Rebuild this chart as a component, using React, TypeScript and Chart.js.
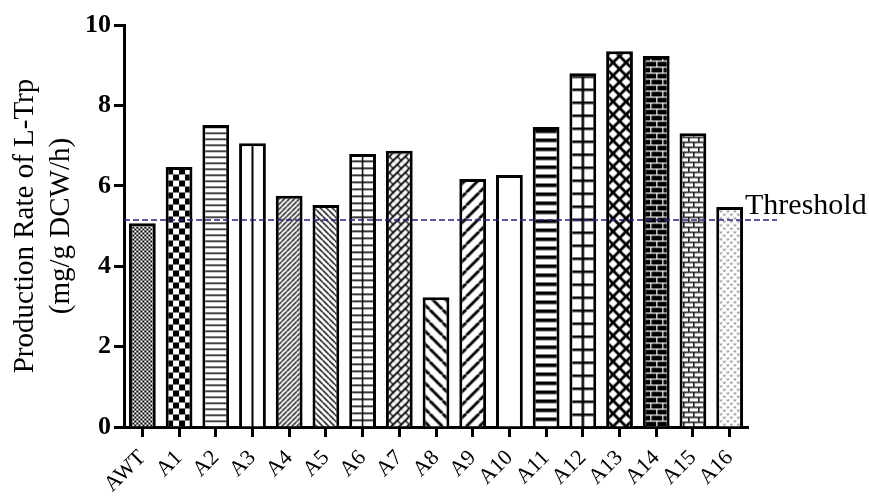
import React, { useEffect, useRef } from "react";
import { Chart, registerables } from "chart.js";

Chart.register(...registerables);

// Strains and their L-Trp production rates (mg/g DCW/h)
const strains = ["AWT", "A1", "A2", "A3", "A4", "A5", "A6", "A7", "A8", "A9", "A10", "A11", "A12", "A13", "A14", "A15", "A16"];
const productionRate = [5.07, 6.47, 7.51, 7.06, 5.75, 5.52, 6.79, 6.87, 3.23, 6.17, 6.27, 7.46, 8.8, 9.35, 9.23, 7.31, 5.47];
const thresholdValue = 5.15;
const thresholdLabel = "Threshold";
const yTickValues = [0, 2, 4, 6, 8, 10];
const yTitle = ["Production Rate of L-Trp", "(mg/g DCW/h)"];

const SERIF = '"Liberation Serif", "Times New Roman", serif';

type Painter = (g: CanvasRenderingContext2D, w: number, h: number) => void;

function seg(g: CanvasRenderingContext2D, x1: number, y1: number, x2: number, y2: number, lw: number, color = "#000") {
  g.strokeStyle = color;
  g.lineWidth = lw;
  g.beginPath();
  g.moveTo(x1, y1);
  g.lineTo(x2, y2);
  g.stroke();
}

function diag(g: CanvasRenderingContext2D, w: number, h: number, lw: number, up: boolean, color = "#000") {
  for (const o of [-w, 0, w]) {
    if (up) seg(g, o, h, o + w, 0, lw, color);
    else seg(g, o, 0, o + w, h, lw, color);
  }
}

// One fill tile per bar: [width, height, painter]
const tiles: [number, number, Painter][] = [
  // AWT: fine mesh
  [4, 4, (g) => { g.fillStyle = "#fff"; g.fillRect(0, 0, 4, 4); g.fillStyle = "#000"; g.fillRect(0, 0, 2, 2); g.fillRect(2, 2, 2, 2); }],
  // A1: checkerboard
  [12, 12, (g) => { g.fillStyle = "#fff"; g.fillRect(0, 0, 12, 12); g.fillStyle = "#000"; g.fillRect(0, 0, 6, 6); g.fillRect(6, 6, 6, 6); }],
  // A2: thin horizontal lines
  [4, 6, (g) => { g.fillStyle = "#fff"; g.fillRect(0, 0, 4, 6); g.fillStyle = "#000"; g.fillRect(0, 0, 4, 1.4); }],
  // A3: single vertical line
  [13, 4, (g) => { g.fillStyle = "#fff"; g.fillRect(0, 0, 13, 4); g.fillStyle = "#000"; g.fillRect(5.5, 0, 2, 4); }],
  // A4: dense forward diagonals
  [5, 5, (g, w, h) => { g.fillStyle = "#fff"; g.fillRect(0, 0, w, h); diag(g, w, h, 1.3, true); }],
  // A5: dense back diagonals
  [6, 6, (g, w, h) => { g.fillStyle = "#fff"; g.fillRect(0, 0, w, h); diag(g, w, h, 1.4, false); }],
  // A6: thin grid
  [13, 7, (g) => { g.fillStyle = "#fff"; g.fillRect(0, 0, 13, 7); g.fillStyle = "#000"; g.fillRect(5.75, 0, 1.5, 7); g.fillRect(0, 0, 13, 1.5); }],
  // A7: woven diagonals
  [8, 8, (g) => {
    g.fillStyle = "#fff"; g.fillRect(0, 0, 8, 8);
    g.lineCap = "round";
    seg(g, 0, 4, 4, 0, 1.8, "#000");
    seg(g, 4, 8, 8, 4, 1.8, "#000");
    seg(g, 2, 2, 6, 6, 1.2, "#000");
    seg(g, -2, 6, 0, 8, 1.2, "#000");
    seg(g, 6, -2, 10, 2, 1.2, "#000");
  }],
  // A8: wide back diagonals
  [13, 13, (g, w, h) => { g.fillStyle = "#fff"; g.fillRect(0, 0, w, h); diag(g, w, h, 2.8, false); }],
  // A9: wide forward diagonals
  [13, 13, (g, w, h) => { g.fillStyle = "#fff"; g.fillRect(0, 0, w, h); diag(g, w, h, 2.8, true); }],
  // A10: open
  [4, 4, (g) => { g.fillStyle = "#fff"; g.fillRect(0, 0, 4, 4); }],
  // A11: heavy horizontal stripes
  [4, 9, (g) => { g.fillStyle = "#fff"; g.fillRect(0, 0, 4, 9); g.fillStyle = "#000"; g.fillRect(0, 0, 4, 3.6); }],
  // A12: heavy grid
  [13, 13, (g) => { g.fillStyle = "#fff"; g.fillRect(0, 0, 13, 13); g.fillStyle = "#000"; g.fillRect(5.25, 0, 2.5, 13); g.fillRect(0, 0, 13, 2.5); }],
  // A13: diamond lattice
  [13, 13, (g, w, h) => { g.fillStyle = "#fff"; g.fillRect(0, 0, w, h); diag(g, w, h, 2.8, true); diag(g, w, h, 2.8, false); }],
  // A14: dark brick
  [12, 12, (g) => {
    g.fillStyle = "#000"; g.fillRect(0, 0, 12, 12);
    g.fillStyle = "#fff";
    g.fillRect(0, 0, 12, 1.2); g.fillRect(0, 6, 12, 1.2);
    g.fillRect(0, 0, 1.2, 6); g.fillRect(6, 6, 1.2, 6);
  }],
  // A15: light brick
  [10, 10, (g) => {
    g.fillStyle = "#fff"; g.fillRect(0, 0, 10, 10);
    g.fillStyle = "#222";
    g.fillRect(0, 0, 10, 1.6); g.fillRect(0, 5, 10, 1.6);
    g.fillRect(0, 0, 1.6, 5); g.fillRect(5, 5, 1.6, 5);
  }],
  // A16: speckled
  [7, 7, (g) => {
    g.fillStyle = "#fff"; g.fillRect(0, 0, 7, 7);
    g.lineJoin = "round";
    const v = (x: number, y: number) => {
      g.strokeStyle = "#666"; g.lineWidth = 1;
      g.beginPath(); g.moveTo(x, y); g.lineTo(x + 1.2, y + 1.8); g.lineTo(x + 2.4, y); g.stroke();
    };
    v(0.5, 0.8); v(4, 4.3);
  }],
];

function buildPatterns(ctx: CanvasRenderingContext2D) {
  return tiles.map(([w, h, paint]) => {
    const c = document.createElement("canvas");
    c.width = w;
    c.height = h;
    const g = c.getContext("2d")!;
    paint(g, w, h);
    return ctx.createPattern(c, "repeat")!;
  });
}

export default function App() {
  const canvasRef = useRef<HTMLCanvasElement | null>(null);

  useEffect(() => {
    const canvas = canvasRef.current;
    if (!canvas) return;
    const ctx = canvas.getContext("2d")!;
    const patterns = buildPatterns(ctx);

    // Anchor every fill tile on its own bar so the motif sits centred.
    const patternAnchor = {
      id: "patternAnchor",
      beforeDatasetsDraw(chart: Chart) {
        const meta = chart.getDatasetMeta(0);
        meta.data.forEach((bar: any, i: number) => {
          const w = tiles[i][0];
          const p = patterns[i] as any;
          if (p && p.setTransform) {
            p.setTransform(new DOMMatrix().translate(bar.x - w / 2, bar.base));
          }
        });
      },
    };

    const thresholdLine = {
      id: "thresholdLine",
      afterDatasetsDraw(chart: Chart) {
        const { chartArea } = chart;
        const c = chart.ctx;
        const y = chart.scales.y.getPixelForValue(thresholdValue);
        c.save();
        c.strokeStyle = "#23237f";
        c.lineWidth = 1.6;
        c.setLineDash([6, 3]);
        c.beginPath();
        c.moveTo(chartArea.left, y);
        c.lineTo(chartArea.right + 29, y);
        c.stroke();
        c.setLineDash([]);
        c.fillStyle = "#000";
        c.font = `30px ${SERIF}`;
        c.textBaseline = "alphabetic";
        c.textAlign = "left";
        c.fillText(thresholdLabel, chartArea.right - 3, y - 6);
        c.restore();
      },
    };

    const chart = new Chart(ctx, {
      type: "bar",
      data: {
        labels: strains,
        datasets: [
          {
            data: productionRate,
            backgroundColor: patterns,
            borderColor: "#000",
            borderWidth: 3,
            categoryPercentage: 1,
            barPercentage: 0.73,
          },
        ],
      },
      options: {
        responsive: false,
        animation: false,
        layout: { padding: { top: 25, right: 121, left: 0, bottom: 0 } },
        plugins: { legend: { display: false }, tooltip: { enabled: false } },
        scales: {
          x: {
            ticks: {
              color: "#000",
              font: { family: SERIF, size: 22 },
              minRotation: 45,
              maxRotation: 45,
              autoSkip: false,
              padding: 8,
            },
            grid: { offset: false, drawOnChartArea: false, drawTicks: true, tickLength: 10, tickWidth: 3, color: "#000" },
            border: { display: true, color: "#000", width: 3 },
            afterFit: (s: any) => { s.height = 71; },
          },
          y: {
            min: 0,
            max: 10,
            afterBuildTicks: (s: any) => { s.ticks = yTickValues.map((v) => ({ value: v })); },
            ticks: {
              color: "#000",
              font: { family: SERIF, size: 26, weight: "bold" },
              padding: 3,
            },
            grid: { drawOnChartArea: false, drawTicks: true, tickLength: 10, tickWidth: 3, color: "#000" },
            border: { display: true, color: "#000", width: 3 },
            title: {
              display: true,
              text: yTitle,
              color: "#000",
              font: { family: SERIF, size: 29, lineHeight: 1.25 },
              padding: { top: 7, bottom: 0 },
            },
            afterFit: (s: any) => { s.width = 124; },
          },
        },
      },
      plugins: [patternAnchor, thresholdLine],
    } as any);

    return () => chart.destroy();
  }, []);

  return (
    <div style={{ position: "absolute", left: 0, top: 0, width: 869, height: 498, background: "#fff" }}>
      <canvas ref={canvasRef} width={869} height={498} />
    </div>
  );
}
